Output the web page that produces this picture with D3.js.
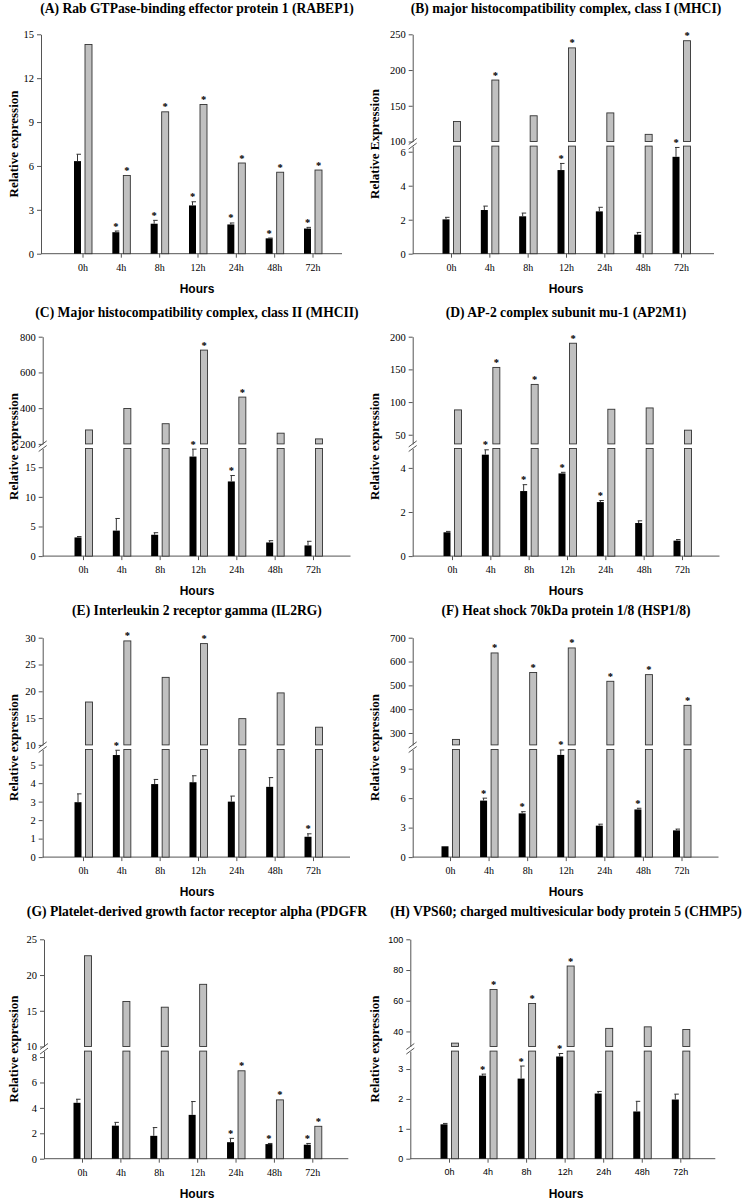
<!DOCTYPE html>
<html>
<head>
<meta charset="utf-8">
<script src="https://cdn.jsdelivr.net/npm/d3@7"></script>
<style>
  html, body { margin: 0; padding: 0; background: #fff; }
  svg { display: block; }
</style>
</head>
<body>
<svg id="chart" width="744" height="1200"></svg>
<script>
// ---------------- DATA ----------------
const hours = ["0h", "4h", "8h", "12h", "24h", "48h", "72h"];

const titles = [
  "(A) Rab GTPase-binding effector protein 1 (RABEP1)",
  "(B) major histocompatibility complex, class I (MHCI)",
  "(C) Major histocompatibility complex, class II (MHCII)",
  "(D) AP-2 complex subunit mu-1 (AP2M1)",
  "(E) Interleukin 2 receptor gamma (IL2RG)",
  "(F) Heat shock 70kDa protein 1/8 (HSP1/8)",
  "(G) Platelet-derived growth factor receptor alpha (PDGFR",
  "(H) VPS60; charged multivesicular body protein 5 (CHMP5)"
];
const yTitles = [
  "Relative expression", "Relative Expression", "Relative expression", "Relative expression",
  "Relative expression", "Relative expression", "Relative expression", "Relative expression"
];
const xTitle = "Hours";

// (A) RABEP1
const rabep1Black = [6.33, 1.47, 2.05, 3.3, 2.0, 1.05, 1.72];
const rabep1Err   = [6.8, 1.55, 2.28, 3.55, 2.1, 1.07, 1.8];
const rabep1Gray  = [14.3, 5.35, 9.7, 10.2, 6.2, 5.57, 5.72];
const rabep1StarB = [0, 1, 1, 1, 1, 1, 1];
const rabep1StarG = [0, 1, 1, 1, 1, 1, 1];
const rabep1Ticks = [0, 3, 6, 9, 12, 15];

// (B) MHCI
const mhc1Black = [2.02, 2.57, 2.2, 4.92, 2.49, 1.12, 5.7];
const mhc1Err   = [2.14, 2.8, 2.39, 5.31, 2.73, 1.25, 6.25];
const mhc1Gray  = [128, 186, 136, 231, 140, 110, 241];
const mhc1StarB = [0, 0, 0, 1, 0, 0, 1];
const mhc1StarG = [0, 1, 0, 1, 0, 0, 1];
const mhc1UpperTicks = [100, 150, 200, 250];
const mhc1LowerTicks = [0, 2, 4, 6];

// (C) MHCII
const mhc2Black = [3.15, 4.3, 3.6, 16.8, 12.6, 2.3, 1.8];
const mhc2Err   = [3.3, 6.35, 3.95, 18.05, 13.6, 2.6, 2.5];
const mhc2Gray  = [278, 398, 313, 725, 462, 260, 228];
const mhc2StarB = [0, 0, 0, 1, 1, 0, 0];
const mhc2StarG = [0, 0, 0, 1, 1, 0, 0];
const mhc2UpperTicks = [200, 400, 600, 800];
const mhc2LowerTicks = [0, 5, 10, 15];

// (D) AP2M1
const ap2m1Black = [1.08, 4.6, 2.95, 3.75, 2.45, 1.5, 0.7];
const ap2m1Err   = [1.12, 4.82, 3.24, 3.8, 2.52, 1.6, 0.75];
const ap2m1Gray  = [88, 153, 127, 190, 89, 91, 57];
const ap2m1StarB = [0, 1, 1, 1, 1, 0, 0];
const ap2m1StarG = [0, 1, 1, 1, 0, 0, 0];
const ap2m1UpperTicks = [50, 100, 150, 200];
const ap2m1LowerTicks = [0, 2, 4];

// (E) IL2RG
const il2rgBlack = [2.97, 5.52, 3.95, 4.05, 3.0, 3.8, 1.1];
const il2rgErr   = [3.42, 5.78, 4.2, 4.4, 3.3, 4.3, 1.26];
const il2rgGray  = [18, 29.4, 22.6, 28.9, 14.9, 19.7, 13.3];
const il2rgStarB = [0, 1, 0, 0, 0, 0, 1];
const il2rgStarG = [0, 1, 0, 1, 0, 0, 0];
const il2rgUpperTicks = [10, 15, 20, 25, 30];
const il2rgLowerTicks = [0, 1, 2, 3, 4, 5];

// (F) HSP1/8
const hspBlack = [1.1, 5.75, 4.45, 10.4, 3.2, 4.85, 2.72];
const hspErr   = [1.1, 6.0, 4.62, 10.9, 3.35, 4.97, 2.85];
const hspGray  = [273, 636, 554, 657, 517, 545, 416];
const hspStarB = [0, 1, 1, 1, 0, 1, 0];
const hspStarG = [0, 1, 1, 1, 1, 1, 1];
const hspUpperTicks = [300, 400, 500, 600, 700];
const hspLowerTicks = [0, 3, 6, 9];

// (G) PDGFRA
const pdgfrBlack = [4.4, 2.6, 1.8, 3.45, 1.3, 1.15, 1.1];
const pdgfrErr   = [4.68, 2.86, 2.45, 4.5, 1.6, 1.2, 1.2];
const pdgfrGray  = [22.7, 16.3, 15.5, 18.7, 6.92, 4.63, 2.55];
const pdgfrStarB = [0, 0, 0, 0, 1, 1, 1];
const pdgfrStarG = [0, 0, 0, 0, 1, 1, 1];
const pdgfrUpperTicks = [10, 15, 20, 25];
const pdgfrLowerTicks = [0, 2, 4, 6, 8];

// (H) CHMP5
const chmp5Black = [1.15, 2.78, 2.68, 3.42, 2.18, 1.58, 1.98];
const chmp5Err   = [1.18, 2.83, 3.1, 3.52, 2.25, 1.92, 2.16];
const chmp5Gray  = [32.4, 67.3, 58.2, 82.6, 42, 43, 41.3];
const chmp5StarB = [0, 1, 1, 1, 0, 0, 0];
const chmp5StarG = [0, 1, 1, 1, 0, 0, 0];
const chmp5UpperTicks = [40, 60, 80, 100];
const chmp5LowerTicks = [0, 1, 2, 3];

// axis domains (lower segment / upper segment of broken axes)
const lowerDomains = [[0, 15], [0, 6.33], [0, 18.16], [0, 4.88], [0, 5.82], [0, 10.95], [0, 8.47], [0, 3.6]];
const upperDomains = [null, [100, 250], [200, 800], [36, 200], [10, 30], [250, 700], [10, 25], [30.2, 100]];

// ---------------- PANEL TABLE ----------------
const panels = [
  { black: rabep1Black, err: rabep1Err, gray: rabep1Gray, sb: rabep1StarB, sg: rabep1StarG, lowerTicks: rabep1Ticks, upperTicks: null },
  { black: mhc1Black, err: mhc1Err, gray: mhc1Gray, sb: mhc1StarB, sg: mhc1StarG, lowerTicks: mhc1LowerTicks, upperTicks: mhc1UpperTicks },
  { black: mhc2Black, err: mhc2Err, gray: mhc2Gray, sb: mhc2StarB, sg: mhc2StarG, lowerTicks: mhc2LowerTicks, upperTicks: mhc2UpperTicks },
  { black: ap2m1Black, err: ap2m1Err, gray: ap2m1Gray, sb: ap2m1StarB, sg: ap2m1StarG, lowerTicks: ap2m1LowerTicks, upperTicks: ap2m1UpperTicks },
  { black: il2rgBlack, err: il2rgErr, gray: il2rgGray, sb: il2rgStarB, sg: il2rgStarG, lowerTicks: il2rgLowerTicks, upperTicks: il2rgUpperTicks },
  { black: hspBlack, err: hspErr, gray: hspGray, sb: hspStarB, sg: hspStarG, lowerTicks: hspLowerTicks, upperTicks: hspUpperTicks },
  { black: pdgfrBlack, err: pdgfrErr, gray: pdgfrGray, sb: pdgfrStarB, sg: pdgfrStarG, lowerTicks: pdgfrLowerTicks, upperTicks: pdgfrUpperTicks },
  { black: chmp5Black, err: chmp5Err, gray: chmp5Gray, sb: chmp5StarB, sg: chmp5StarG, lowerTicks: chmp5LowerTicks, upperTicks: chmp5UpperTicks }
].map((p, i) => Object.assign(p, {
  title: titles[i], yTitle: yTitles[i],
  lowerDomain: lowerDomains[i], upperDomain: upperDomains[i],
  sans: i === 7
}));

// ---------------- LAYOUT ----------------
const rowTop   = [34.3, 336.7, 637.7, 939.3];
const rowTitle = [13, 317, 615, 916];
const plotH = 219.4, upperH = 107.2, lowerH = 107.6;
const layout = [
  { ax: 41.0,  c0: 82.5,  c1: 312.5, end: 342.0 },
  { ax: 412.7, c0: 451.0, c1: 681.0, end: 714.0 },
  { ax: 42.7,  c0: 83.0,  c1: 313.0, end: 350.5 },
  { ax: 412.7, c0: 452.0, c1: 682.0, end: 719.5 },
  { ax: 42.7,  c0: 83.0,  c1: 313.0, end: 350.0 },
  { ax: 412.7, c0: 450.0, c1: 681.5, end: 718.5 },
  { ax: 44.0,  c0: 82.0,  c1: 312.3, end: 348.3 },
  { ax: 410.3, c0: 449.0, c1: 680.3, end: 715.3 }
];
const colCenter = [197, 566];
const colYTitle = [13.5, 374];

const SERIF = "'Liberation Serif', 'Times New Roman', serif";
const SANS  = "'Liberation Sans', Arial, sans-serif";
const AXIS_COLOR = "#555";
const fmt = d3.format("~g");

const svg = d3.select("#chart");

panels.forEach((p, i) => {
  const row = Math.floor(i / 2), col = i % 2;
  const L = layout[i];
  const top = rowTop[row];
  const zero = top + plotH;
  const tickFont = p.sans ? SANS : SERIF;
  const tickSize = p.sans ? "9px" : "10.5px";
  const g = svg.append("g");

  // title
  g.append("text")
    .attr("x", colCenter[col]).attr("y", rowTitle[row])
    .attr("text-anchor", "middle")
    .style("font-family", SERIF).style("font-weight", "bold").style("font-size", "13.6px")
    .text(p.title);

  // scales
  const x = d3.scalePoint().domain(hours).range([L.c0, L.c1]);
  const broken = !!p.upperDomain;
  const yLow = d3.scaleLinear().domain(p.lowerDomain).range(broken ? [zero, zero - lowerH] : [zero, top]);
  const yUp = broken ? d3.scaleLinear().domain(p.upperDomain).range([top + upperH, top]) : null;

  // y axes
  const styleAxis = sel => {
    sel.selectAll("path.domain").attr("stroke", AXIS_COLOR);
    sel.selectAll(".tick line").attr("stroke", AXIS_COLOR);
    sel.selectAll(".tick text").style("font-family", tickFont).style("font-size", tickSize).attr("fill", "#000");
  };
  g.append("g").attr("transform", `translate(${L.ax},0)`)
    .call(d3.axisLeft(yLow).tickValues(p.lowerTicks).tickFormat(fmt).tickSize(4).tickSizeOuter(0).tickPadding(3))
    .call(styleAxis);
  if (broken) {
    g.append("g").attr("transform", `translate(${L.ax},0)`)
      .call(d3.axisLeft(yUp).tickValues(p.upperTicks).tickFormat(fmt).tickSize(4).tickSizeOuter(0).tickPadding(3))
      .call(styleAxis);
    // break marks
    [yUp.range()[0], yLow.range()[1]].forEach(yy => {
      g.append("line")
        .attr("x1", L.ax - 4).attr("y1", yy + 3)
        .attr("x2", L.ax + 4).attr("y2", yy - 3)
        .attr("stroke", AXIS_COLOR).attr("stroke-width", 1);
    });
  }

  // x axis
  g.append("line").attr("x1", L.ax).attr("x2", L.end).attr("y1", zero).attr("y2", zero)
    .attr("stroke", AXIS_COLOR).attr("stroke-width", 1);
  const xa = g.append("g").attr("transform", `translate(0,${zero})`)
    .call(d3.axisBottom(x).tickSize(4).tickSizeOuter(0).tickPadding(6));
  xa.select("path.domain").remove();
  xa.selectAll(".tick line").attr("stroke", AXIS_COLOR);
  xa.selectAll(".tick text").style("font-family", tickFont).style("font-size", p.sans ? "9px" : "10px").attr("fill", "#000");

  // y title
  g.append("text")
    .attr("transform", `translate(${colYTitle[col]},${top + plotH / 2}) rotate(-90)`)
    .attr("text-anchor", "middle").attr("dominant-baseline", "central")
    .style("font-family", SERIF).style("font-weight", "bold").style("font-size", "13px")
    .text(p.yTitle);

  // x title
  g.append("text")
    .attr("x", colCenter[col]).attr("y", top + 258.7)
    .attr("text-anchor", "middle")
    .style("font-family", SANS).style("font-weight", "bold").style("font-size", "12px")
    .text(xTitle);

  const bOff = -8.5, bW = 7, gOff = 2.5, gW = 7;
  const starStyle = sel => sel.attr("text-anchor", "middle")
    .style("font-family", SERIF).style("font-weight", "bold").style("font-size", "10.5px").text("*");

  hours.forEach((h, j) => {
    const c = x(h);
    // black bar
    const bv = p.black[j], ev = p.err[j];
    g.append("rect").attr("x", c + bOff).attr("width", bW)
      .attr("y", yLow(bv)).attr("height", zero - yLow(bv)).attr("fill", "#000");
    if (ev > bv) {
      const cx = c + bOff + bW / 2;
      g.append("line").attr("x1", cx).attr("x2", cx).attr("y1", yLow(bv)).attr("y2", yLow(ev))
        .attr("stroke", "#333").attr("stroke-width", 1);
      g.append("line").attr("x1", cx - 1).attr("x2", cx + 3.5).attr("y1", yLow(ev)).attr("y2", yLow(ev))
        .attr("stroke", "#333").attr("stroke-width", 1);
    }
    if (p.sb[j]) {
      g.append("text").attr("x", c + bOff + bW / 2).attr("y", yLow(Math.max(bv, ev)) - 1.5).call(starStyle);
    }
    // gray bar
    const gv = p.gray[j];
    let gTop;
    const gx = c + gOff;
    if (!broken || gv <= p.lowerDomain[1]) {
      gTop = yLow(gv);
      g.append("rect").attr("x", gx).attr("width", gW).attr("y", gTop).attr("height", zero - gTop)
        .attr("fill", "#c0c0c0").attr("stroke", "#333").attr("stroke-width", 0.9);
    } else {
      const lt = yLow(p.lowerDomain[1]);
      g.append("rect").attr("x", gx).attr("width", gW).attr("y", lt).attr("height", zero - lt)
        .attr("fill", "#c0c0c0").attr("stroke", "#333").attr("stroke-width", 0.9);
      const ub = yUp(p.upperDomain[0]);
      gTop = yUp(gv);
      g.append("rect").attr("x", gx).attr("width", gW).attr("y", gTop).attr("height", ub - gTop)
        .attr("fill", "#c0c0c0").attr("stroke", "#333").attr("stroke-width", 0.9);
    }
    if (p.sg[j]) {
      g.append("text").attr("x", gx + gW / 2).attr("y", gTop - 1.5).call(starStyle);
    }
  });
});
</script>
</body>
</html>
